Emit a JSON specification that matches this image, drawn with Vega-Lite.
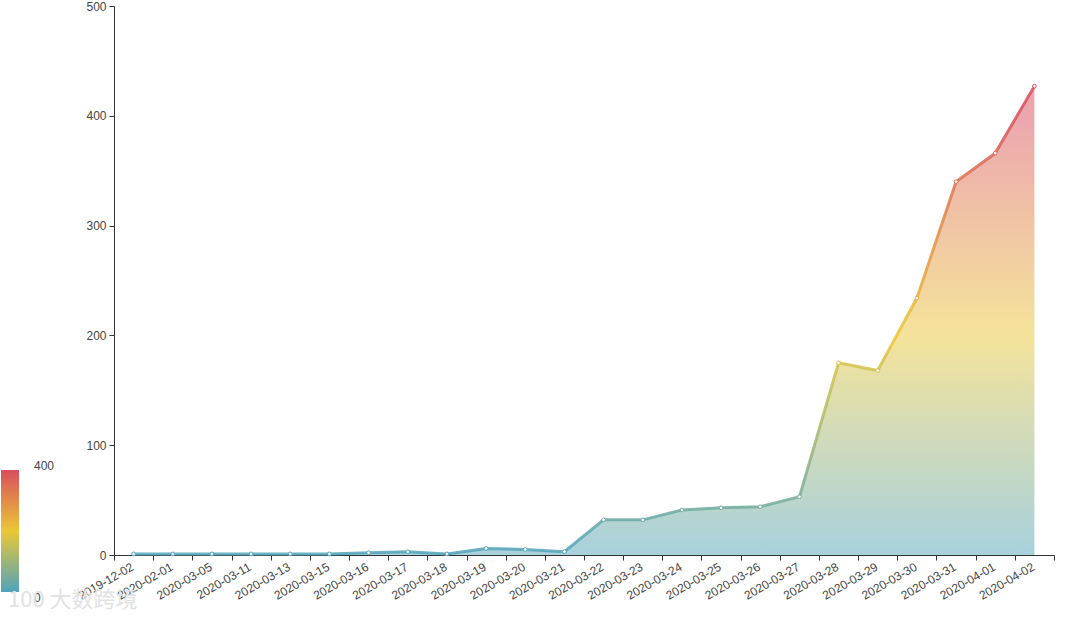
{"$schema":"https://vega.github.io/schema/vega-lite/v6.json","width":940,"height":549,"autosize":"none","padding":{"left":114,"top":6,"right":26,"bottom":62},"background":"white","view":{"stroke":null},"title":{"text":"100 大数跨境","orient":"bottom","anchor":"start","frame":"group","font":"Noto Sans CJK SC","fontSize":22,"fontWeight":"normal","color":"#e2e2e2","offset":28,"dx":-106,"dy":-42},"data":{"values":[{"date":"2019-12-02","v":1},{"date":"2020-02-01","v":1},{"date":"2020-03-05","v":1},{"date":"2020-03-11","v":1},{"date":"2020-03-13","v":1},{"date":"2020-03-15","v":1},{"date":"2020-03-16","v":2},{"date":"2020-03-17","v":3},{"date":"2020-03-18","v":1},{"date":"2020-03-19","v":6},{"date":"2020-03-20","v":5},{"date":"2020-03-21","v":3},{"date":"2020-03-22","v":32},{"date":"2020-03-23","v":32},{"date":"2020-03-24","v":41},{"date":"2020-03-25","v":43},{"date":"2020-03-26","v":44},{"date":"2020-03-27","v":53},{"date":"2020-03-28","v":175},{"date":"2020-03-29","v":168},{"date":"2020-03-30","v":234},{"date":"2020-03-31","v":340},{"date":"2020-04-01","v":366},{"date":"2020-04-02","v":427}]},"encoding":{"x":{"field":"date","type":"ordinal","scale":{"type":"band","paddingInner":0,"paddingOuter":0},"title":null,"axis":{"labelAngle":-30,"labelAlign":"right","labelBaseline":"top","tickBand":"extent","labelFont":"Liberation Sans","labelFontSize":12,"labelColor":"#444","domainColor":"#333","tickColor":"#333","tickSize":5,"labelPadding":1,"labelOffset":-4,"labelOverlap":false,"grid":false}},"y":{"field":"v","type":"quantitative","scale":{"domain":[0,500]},"title":null,"axis":{"values":[0,100,200,300,400,500],"labelFont":"Liberation Sans","labelFontSize":12,"labelColor":"#444","domainColor":"#333","tickColor":"#333","tickSize":5,"labelPadding":3,"grid":false}}},"layer":[{"mark":{"type":"area","opacity":0.5,"color":{"gradient":"linear","x1":0,"y1":1,"x2":0,"y2":0,"stops":[{"offset":0,"color":"#50a3ba"},{"offset":0.468,"color":"#eac736"},{"offset":0.937,"color":"#d94e5d"},{"offset":1,"color":"#d94e5d"}]}}},{"mark":{"type":"line","strokeWidth":3,"opacity":0.85,"color":{"gradient":"linear","x1":0,"y1":1,"x2":0,"y2":0,"stops":[{"offset":0,"color":"#50a3ba"},{"offset":0.468,"color":"#eac736"},{"offset":0.937,"color":"#d94e5d"},{"offset":1,"color":"#d94e5d"}]}}},{"mark":{"type":"point","filled":false,"fill":"white","fillOpacity":1,"size":14,"strokeWidth":1,"opacity":1},"encoding":{"stroke":{"field":"v","type":"quantitative","scale":{"domain":[0,400],"range":["#50a3ba","#eac736","#d94e5d"],"interpolate":"rgb","clamp":true},"legend":{"orient":"none","legendX":-113,"legendY":464,"title":null,"values":[0,400],"gradientLength":122,"gradientThickness":18,"gradientStrokeWidth":0,"labelFont":"Liberation Sans","labelFontSize":12,"labelColor":"#444","labelOffset":15,"encoding":{"labels":{"dy":{"condition":{"test":"datum.value > 200","value":-9},"value":13}}}}}}}]}
